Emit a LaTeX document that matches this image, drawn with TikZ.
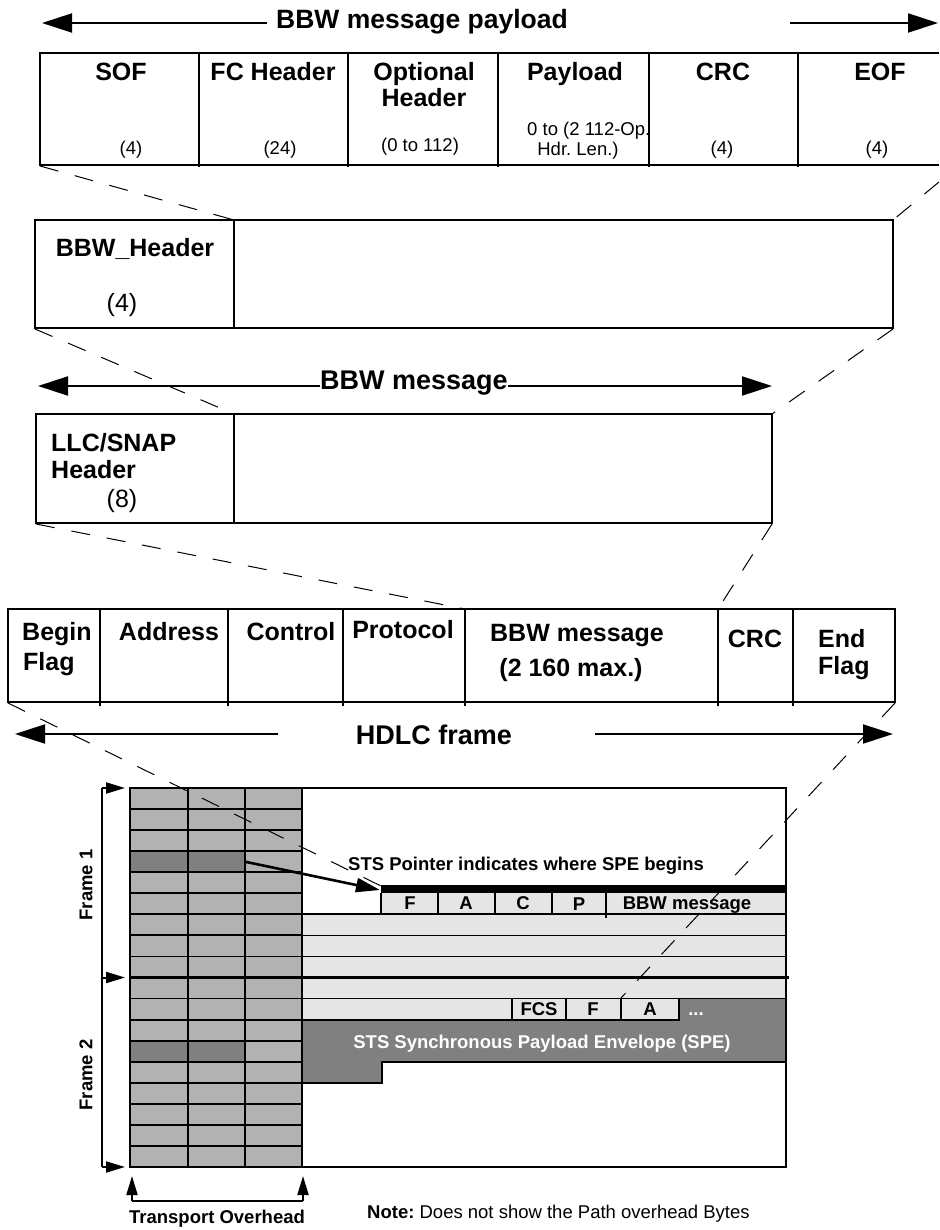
\documentclass[tikz,border=0pt]{standalone}
\usepackage{fontspec}
\setmainfont{Liberation Sans}
\usetikzlibrary{arrows.meta}
\frenchspacing
\definecolor{ohgray}{gray}{0.70}
\definecolor{dkgray}{gray}{0.50}
\definecolor{ltgray}{gray}{0.90}
\begin{document}
\begin{tikzpicture}[x=1pt,y=-1pt,
  box/.style={draw=black,line width=1.8pt},
  cutline/.style={draw=black,line width=1pt,dash pattern=on 19pt off 17pt},
  head/.style={font=\fontsize{27}{30}\selectfont\bfseries,inner sep=0pt,anchor=base},
  lbl/.style={font=\fontsize{25}{28}\selectfont\bfseries,inner sep=0pt,anchor=base},
  lblr/.style={font=\fontsize{25}{28}\selectfont,inner sep=0pt,anchor=base},
  sml/.style={font=\fontsize{18.5}{20}\selectfont,inner sep=0pt,anchor=base},
  smb/.style={font=\fontsize{18.5}{20}\selectfont\bfseries,inner sep=0pt,anchor=base},
  bigarrow/.style={line width=2pt,-{Triangle[length=30pt,width=19pt]}},
  smallarrow/.style={line width=2pt,-{Triangle[length=19pt,width=11pt]}},
  gridline/.style={line width=1.8pt},
  gridthick/.style={line width=2.6pt},
]
\useasboundingbox (0,0) rectangle (939,1230);

% ================= BBW message payload =================
\node[head,font=\fontsize{26.5}{30}\selectfont\bfseries,anchor=base west] (tpayload) at (276,29) {BBW message payload};
\coordinate (pl0) at (267,23); \coordinate (pl1) at (42,23);
\coordinate (pr0) at (790,23); \coordinate (pr1) at (938,23);
\draw[bigarrow] (pl0) -- (pl1);
\draw[bigarrow] (pr0) -- (pr1);

\draw[box] (939,53) -- (40,53) -- (40,165) -- (939,165);
\foreach \x in {199,348,498,649,798} \draw[box] (\x,53) -- (\x,167);

\node[lbl] (sof) at (121,81) {SOF};
\node[lbl] (fch) at (273,81) {FC Header};
\node[lbl] (opt1) at (424,81) {Optional};
\node[lbl] (opt2) at (424,107) {Header};
\node[lbl] (pay) at (575,81) {Payload};
\node[lbl] (crc1) at (723,81) {CRC};
\node[lbl] (eof) at (880,81) {EOF};
\node[sml] (n4a) at (131,155) {(4)};
\node[sml] (n24) at (280,155) {(24)};
\node[sml] (n0112) at (420,152) {(0 to 112)};
\node[sml,anchor=base west] (npay1) at (527,136) {0 to (2 112-Op.};
\node[sml] (npay2) at (578,156) {Hdr. Len.)};
\node[sml] (n4b) at (722,155) {(4)};
\node[sml] (n4c) at (877,155) {(4)};

% ================= BBW_Header =================
\draw[box] (35,220) rectangle (893,328);
\draw[box] (234,220) -- (234,328);
\node[lbl] (bbwh) at (135,257) {BBW\_Header};
\node[lblr] (bbwh4) at (122,312) {(4)};

% ================= BBW message =================
\node[head,anchor=base west] (tmsg) at (320,389) {BBW message};
\coordinate (ml0) at (320,386); \coordinate (ml1) at (38,386);
\coordinate (mr0) at (508,386); \coordinate (mr1) at (772,386);
\draw[bigarrow] (ml0) -- (ml1);
\draw[bigarrow] (mr0) -- (mr1);

% ================= LLC/SNAP =================
\draw[box] (36,414) rectangle (772,523);
\draw[box] (234,414) -- (234,523);
\node[lbl,anchor=base west] (llc1) at (51,451) {LLC/SNAP};
\node[lbl,anchor=base west] (llc2) at (51,478) {Header};
\node[lblr] (llc8) at (122,507) {(8)};

% ================= HDLC frame =================
\draw[box] (8,609) rectangle (895,702);
\foreach \x in {100,228,343,465,718,793} \draw[box] (\x,609) -- (\x,706);
\node[lbl,anchor=base west] (hbeg1) at (22,640) {Begin};
\node[lbl,anchor=base west] (hbeg2) at (23,670) {Flag};
\node[lbl] (haddr) at (169,640) {Address};
\node[lbl] (hctrl) at (291,640) {Control};
\node[lbl] (hprot) at (403,638) {Protocol};
\node[lbl] (hmsg1) at (577,641) {BBW message};
\node[lbl] (hmsg2) at (571,676) {(2 160 max.)};
\node[lbl] (hcrc) at (755,647) {CRC};
\node[lbl,anchor=base west] (hend1) at (818,647) {End};
\node[lbl,anchor=base west] (hend2) at (818,674) {Flag};

\node[head] (thdlc) at (434,744) {HDLC frame};
\coordinate (hl0) at (278,734); \coordinate (hl1) at (15,734);
\coordinate (hr0) at (595,734); \coordinate (hr1) at (893,734);
\draw[bigarrow] (hl0) -- (hl1);
\draw[bigarrow] (hr0) -- (hr1);

% ================= SONET frames =================
\fill[ohgray] (130,788) rectangle (302,1167);
\fill[dkgray] (130,851.17) rectangle (245,872.22);
\fill[dkgray] (130,1040.67) rectangle (245,1061.72);
\fill[ltgray] (302,914.33) rectangle (786,1019.61);
\fill[ltgray] (381,893.28) rectangle (786,914.33);
\fill[black] (381,885) rectangle (786,893.28);
\filldraw[fill=dkgray,draw=black,line width=1.8pt]
  (302,1019.61) -- (679,1019.61) -- (679,998.56) -- (786,998.56) -- (786,1061.72)
  -- (382,1061.72) -- (382,1082.78) -- (302,1082.78) -- cycle;

\foreach \i in {1,...,17} \draw[gridline] (130,{788+21.0556*\i}) -- (302,{788+21.0556*\i});
\foreach \x in {188,245,302} \draw[gridline] (\x,788) -- (\x,1167);
\foreach \y in {914.33,935.39,956.44,998.56} \draw[gridline] (302,\y) -- (786,\y);
\draw[gridthick] (130,977.5) -- (789,977.5);
\foreach \x in {381,438,495,552} \draw[gridline] (\x,893.28) -- (\x,914.33);
\draw[gridline] (606,893.28) -- (606,918);
\foreach \x in {512,566,621} \draw[gridline] (\x,998.56) -- (\x,1019.61);
\draw[gridthick] (130,788) rectangle (786,1167);

\node[smb] (gF) at (410,909) {F};
\node[smb] (gA) at (466,909) {A};
\node[smb] (gC) at (523,909) {C};
\node[smb] (gP) at (579,910) {P};
\node[smb] (gmsg) at (687,909) {BBW message};
\node[smb] (gFCS) at (539,1015) {FCS};
\node[smb] (gF2) at (593,1015) {F};
\node[smb] (gA2) at (650,1015) {A};
\node[smb,text=white] (gdots) at (696,1015) {...};
\node[smb,text=white] (gspe) at (542,1048) {STS Synchronous Payload Envelope (SPE)};
\node[smb,anchor=base west] (gptr) at (348,870) {STS Pointer indicates where SPE begins};

\coordinate (ptr0) at (245,861.7); \coordinate (ptr1) at (380,890);
\draw[line width=2.6pt,-{Triangle[length=24pt,width=14pt]}] (ptr0) -- (ptr1);

% frame markers
\node[smb,rotate=90,anchor=center] (fr1) at (86,885) {Frame 1};
\node[smb,rotate=90,anchor=center] (fr2) at (86,1075) {Frame 2};
\coordinate (fv0) at (102,788); \coordinate (fv1) at (102,977.5); \coordinate (fv2) at (102,1167);
\coordinate (fa0) at (125,788); \coordinate (fa1) at (125,977.5); \coordinate (fa2) at (125,1167);
\draw[line width=2pt] (fv0) -- (fv2);
\draw[smallarrow] (fv0) -- (fa0);
\draw[smallarrow] (fv1) -- (fa1);
\draw[smallarrow] (fv2) -- (fa2);

% transport overhead bracket
\coordinate (to0) at (132,1201); \coordinate (to1) at (303,1201);
\coordinate (tt0) at (132,1176); \coordinate (tt1) at (303,1176);
\draw[line width=2pt] (to0) -- (to1);
\draw[smallarrow] (to0) -- (tt0);
\draw[smallarrow] (to1) -- (tt1);
\node[smb] (ttrans) at (217,1223) {Transport Overhead};
\node[sml,anchor=base west] (tnote) at (367,1218) {\textbf{Note:}\ Does not show the Path overhead Bytes};

% ================= dashed expansion lines =================
\coordinate (a1) at (40,166); \coordinate (a2) at (234,220);
\coordinate (a3) at (939,182); \coordinate (a4) at (893,220);
\coordinate (b1) at (35,329); \coordinate (b2) at (234,414);
\coordinate (b3) at (893,329); \coordinate (b4) at (772,414);
\coordinate (c1) at (36,524); \coordinate (c2) at (465,609);
\coordinate (c3) at (772,524); \coordinate (c4) at (718,609);
\coordinate (d1) at (8,703); \coordinate (d2) at (381,886);
\coordinate (d3) at (895,703); \coordinate (d4) at (621,998);
\draw[cutline] (a1) -- (a2);
\draw[cutline] (a3) -- (a4);
\draw[cutline] (b1) -- (b2);
\draw[cutline] (b3) -- (b4);
\draw[cutline] (c1) -- (c2);
\draw[cutline] (c3) -- (c4);
\draw[cutline] (d1) -- (d2);
\draw[cutline] (d3) -- (d4);
\end{tikzpicture}
\end{document}
